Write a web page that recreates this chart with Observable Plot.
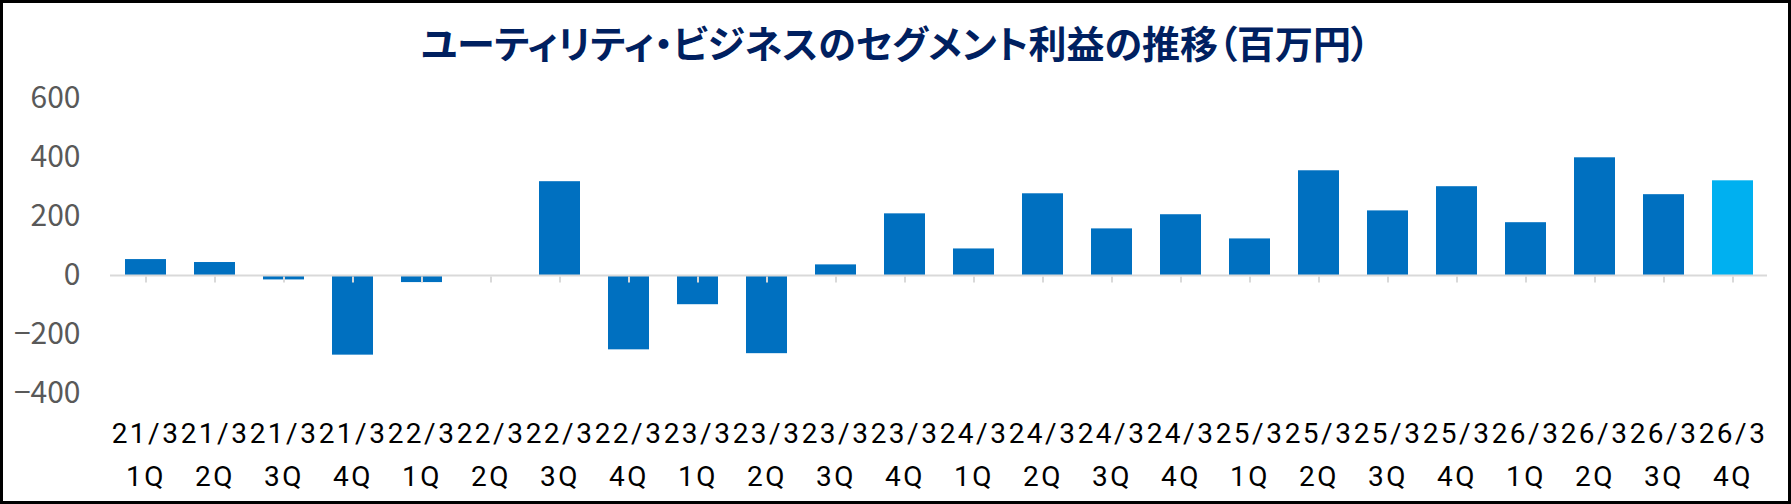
<!DOCTYPE html>
<html>
<head>
<meta charset="utf-8">
<script src="https://cdn.jsdelivr.net/npm/d3@7"></script>
<script src="https://cdn.jsdelivr.net/npm/@observablehq/plot@0.6"></script>
<style>
  html, body { margin: 0; padding: 0; background: #fff; }
  #wrap { position: relative; width: 1791px; height: 504px; overflow: hidden; background: #fff; }
  #frame { position: absolute; left: 0; top: 0; width: 1791px; height: 504px; box-sizing: border-box; border: 3px solid #000; pointer-events: none; }
  #title { height: 80px; line-height: 84px; text-align: center; font-family: "Noto Sans CJK JP", sans-serif; font-weight: bold; font-size: 38px; color: #002060; font-feature-settings: "palt"; white-space: nowrap; }
  #chart svg g[aria-label="x-axis tick label"] text { letter-spacing: 2.5px; }
</style>
</head>
<body>
<div id="wrap">
  <div id="title">ユーティリティ・ビジネスのセグメント利益の推移（百万円）</div>
  <div id="chart"></div>
  <div id="frame"></div>
</div>
<script>
const years = ["21/3","21/3","21/3","21/3","22/3","22/3","22/3","22/3","23/3","23/3","23/3","23/3","24/3","24/3","24/3","24/3","25/3","25/3","25/3","25/3","26/3","26/3","26/3","26/3"];
const quarters = ["1Q","2Q","3Q","4Q","1Q","2Q","3Q","4Q","1Q","2Q","3Q","4Q","1Q","2Q","3Q","4Q","1Q","2Q","3Q","4Q","1Q","2Q","3Q","4Q"];
const values = [54, 44, -15, -270, -24, 0, 318, -252, -99, -265, 36, 209, 90, 277, 158, 206, 124, 355, 219, 301, 179, 399, 274, 321];
const yTicks = [-400, -200, 0, 200, 400, 600];
const barColor = "#0070C0";
const highlightColor = "#00B0F0";

const labels = years.map((y, i) => y + "\n" + quarters[i]);
const data = labels.map((label, i) => ({label, value: values[i], last: i === labels.length - 1}));

// small downward tick below the zero line
const tickDown = { draw(ctx, size) { ctx.moveTo(0, 1); ctx.lineTo(0, 7); } };

const chart = Plot.plot({
  width: 1791,
  height: 424,
  marginTop: 18,
  marginBottom: 111,
  marginLeft: 110,
  marginRight: 24,
  style: { background: "transparent", overflow: "visible", fontFamily: "'Noto Sans CJK JP', sans-serif" },
  x: { domain: labels, paddingInner: 0.41, paddingOuter: 0.205, label: null },
  y: { domain: [-400, 600], ticks: yTicks, label: null },
  marks: [
    Plot.barY(data, { x: "label", y: "value", fill: d => d.last ? highlightColor : barColor }),
    Plot.ruleY([0], { stroke: "#D9D9D9", strokeWidth: 2 }),
    Plot.dot(data, { x: "label", y: () => 0, symbol: tickDown, fill: "none", stroke: "#D9D9D9", strokeWidth: 2 }),
    Plot.axisY(yTicks, { tickSize: 0, tickPadding: 30, fontSize: 30, fill: "#595959", label: null }),
    Plot.axisX({ tickSize: 0, tickPadding: 18.5, fontSize: 28, lineHeight: 1.55, fill: "#000", fontFamily: "Roboto, sans-serif", label: null })
  ]
});
document.getElementById("chart").appendChild(chart);
</script>
</body>
</html>
